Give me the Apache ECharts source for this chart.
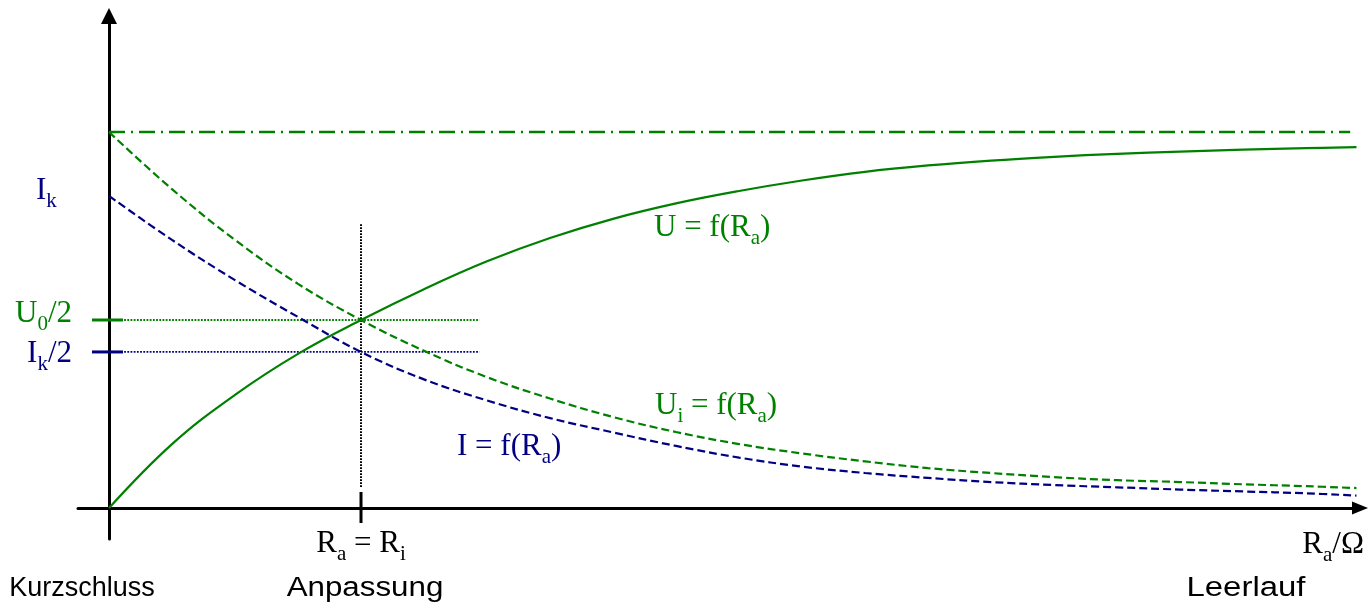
<!DOCTYPE html>
<html>
<head>
<meta charset="utf-8">
<script src="https://cdn.jsdelivr.net/npm/echarts@6/dist/echarts.min.js"></script>
<style>
  html, body { margin: 0; padding: 0; background: #ffffff; }
  #chart { width: 1368px; height: 608px; }
</style>
</head>
<body>
<div id="chart"></div>
<script>
// Load resistance R_a in units of R_i; voltages in units of U_0, current on the same scale (I_k below U_0).
const RA         = [0, 0.25, 0.5, 0.75, 1, 1.25, 1.5, 1.75, 2, 2.25, 2.5, 2.75, 3, 3.25, 3.5, 3.75, 4, 4.25, 4.5, 4.75, 4.95];
const U_TERMINAL = [0, 0.170, 0.301, 0.410, 0.5, 0.582, 0.656, 0.718, 0.769, 0.810, 0.843, 0.871, 0.894, 0.911, 0.924, 0.934, 0.942, 0.948, 0.953, 0.957, 0.960];
const U_INTERNAL = [1.0, 0.848, 0.713, 0.596, 0.5, 0.418, 0.348, 0.291, 0.242, 0.202, 0.170, 0.145, 0.124, 0.106, 0.093, 0.082, 0.074, 0.069, 0.063, 0.058, 0.053];
const CURRENT    = [0.830, 0.713, 0.606, 0.508, 0.415, 0.342, 0.286, 0.239, 0.201, 0.165, 0.134, 0.110, 0.093, 0.080, 0.069, 0.061, 0.055, 0.049, 0.044, 0.039, 0.033];

const U0 = 1;          // source voltage
const IK = 0.83;       // short-circuit current
const RI = 1;          // internal resistance (matching point)
const U0_LINE_END = 4.925;

// Helper guide lines at the matching point
const GUIDE_H_START = 0.06;
const GUIDE_H_END = 1.47;
const GUIDE_V_BOTTOM = 0.056;
const GUIDE_V_TOP = 0.755;

// Axis extents (axes cross at the origin, arrows at the far ends)
const X_MIN = -0.123, X_MAX = 4.964;
const Y_MIN = -0.0825, Y_MAX = 1.3085;

const GREEN = '#008000';
const NAVY = '#000080';
const BLACK = '#000000';
const SERIF = '"Liberation Serif", "Times New Roman", serif';
const SANS = '"Liberation Sans", Arial, sans-serif';

function pairs(xs, ys) { return xs.map((x, i) => [x, ys[i]]); }

function lineSeries(data, color, width, type, smooth) {
  return {
    type: 'line', data, smooth: smooth || false, showSymbol: false, silent: true,
    lineStyle: { color, width, type: type || 'solid' }
  };
}

// Short tick mark centred on an axis at a given value
function tickSeries(axis, value, color) {
  return {
    type: 'custom', coordinateSystem: 'cartesian2d', silent: true, z: 5,
    data: [axis === 'y' ? [0, value] : [value, 0]],
    renderItem(params, api) {
      const p = api.coord([api.value(0), api.value(1)]);
      const shape = axis === 'y'
        ? { x1: p[0] - 17, y1: p[1], x2: p[0] + 14, y2: p[1] }
        : { x1: p[0], y1: p[1] - 16, x2: p[0], y2: p[1] + 15 };
      return { type: 'line', shape, style: { stroke: color, lineWidth: 3 } };
    }
  };
}

// Formula labels with subscripts
function formula(x, y, text, color, align) {
  return {
    type: 'text', x, y, z: 20, silent: true,
    style: {
      text, x: 0, y: 0, align, verticalAlign: 'top', fill: color,
      rich: {
        m: { fontFamily: SERIF, fontSize: 31, lineHeight: 32, verticalAlign: 'top', fill: color },
        s: { fontFamily: SERIF, fontSize: 21, lineHeight: 22, verticalAlign: 'top', padding: [16, 0, 0, 0], fill: color }
      }
    }
  };
}

function caption(x, y, text, stretch) {
  return {
    type: 'text', x, y, z: 20, silent: true, scaleX: stretch || 1,
    style: { text, x: 0, y: 0, align: 'center', verticalAlign: 'middle', fill: BLACK, font: '27px ' + SANS }
  };
}

const chart = echarts.init(document.getElementById('chart'), null, { renderer: 'canvas' });

chart.setOption({
  animation: false,
  backgroundColor: '#ffffff',
  grid: { left: 78, right: 8, top: 16, bottom: 69, containLabel: false },
  xAxis: {
    type: 'value', min: X_MIN, max: X_MAX,
    axisLine: { show: true, onZero: true, symbol: ['none', 'triangle'], symbolSize: [13, 16],
      lineStyle: { color: BLACK, width: 3 } },
    axisTick: { show: false }, axisLabel: { show: false }, splitLine: { show: false }
  },
  yAxis: {
    type: 'value', min: Y_MIN, max: Y_MAX,
    axisLine: { show: true, onZero: true, symbol: ['none', 'triangle'], symbolSize: [16, 16],
      lineStyle: { color: BLACK, width: 3 } },
    axisTick: { show: false }, axisLabel: { show: false }, splitLine: { show: false }
  },
  series: [
    // U_0 level
    lineSeries([[0, U0], [U0_LINE_END, U0]], GREEN, 2.5, [16, 6, 2, 6]),
    // guide lines through the matching point
    lineSeries([[GUIDE_H_START, U0 / 2], [GUIDE_H_END, U0 / 2]], GREEN, 1.8, [1.8, 1.4]),
    lineSeries([[GUIDE_H_START, IK / 2], [GUIDE_H_END, IK / 2]], NAVY, 1.8, [1.8, 1.4]),
    lineSeries([[RI, GUIDE_V_BOTTOM], [RI, GUIDE_V_TOP]], BLACK, 2, [1.6, 1.4]),
    // curves
    lineSeries(pairs(RA, U_INTERNAL), GREEN, 2.2, [8, 4], 0.4),
    lineSeries(pairs(RA, CURRENT), NAVY, 2.2, [8, 4], 0.4),
    lineSeries(pairs(RA, U_TERMINAL), GREEN, 2.2, 'solid', 0.4),
    // ticks
    tickSeries('y', U0 / 2, GREEN),
    tickSeries('y', IK / 2, NAVY),
    tickSeries('x', RI, BLACK)
  ],
  graphic: [
    formula(654, 212, '{m|U = f(R}{s|a}{m|)}', GREEN, 'left'),
    formula(655, 390, '{m|U}{s|i}{m| = f(R}{s|a}{m|)}', GREEN, 'left'),
    formula(457, 431, '{m|I = f(R}{s|a}{m|)}', NAVY, 'left'),
    formula(36, 175, '{m|I}{s|k}', NAVY, 'left'),
    formula(72, 298, '{m|U}{s|0}{m|/2}', GREEN, 'right'),
    formula(72, 338, '{m|I}{s|k}{m|/2}', NAVY, 'right'),
    formula(361, 528, '{m|R}{s|a}{m| = R}{s|i}', BLACK, 'center'),
    formula(1364, 529, '{m|R}{s|a}{m|/Ω}', BLACK, 'right'),
    caption(82, 589, 'Kurzschluss'),
    caption(365, 589, 'Anpassung', 1.16),
    caption(1246, 589, 'Leerlauf', 1.22)
  ]
});
</script>
</body>
</html>
